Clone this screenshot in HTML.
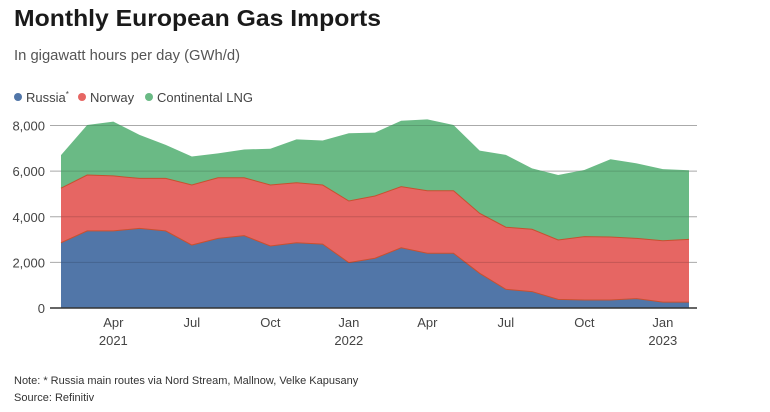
<!DOCTYPE html>
<html><head><meta charset="utf-8"><style>
html,body{margin:0;padding:0;background:#fff;}
svg{display:block;font-family:"Liberation Sans",sans-serif;}
</style></head><body>
<svg id="chart" width="770" height="412" viewBox="0 0 770 412">
<text x="14" y="26" font-size="23" font-weight="bold" fill="#1a1a1a" textLength="367" lengthAdjust="spacingAndGlyphs">Monthly European Gas Imports</text>
<text x="14" y="60" font-size="15" fill="#555" textLength="226" lengthAdjust="spacingAndGlyphs">In gigawatt hours per day (GWh/d)</text>
<g>
<circle cx="18" cy="97" r="4" fill="#5176a8"/>
<text x="26" y="102" font-size="13" fill="#444">Russia<tspan font-size="8" dy="-5">*</tspan></text>
<circle cx="82" cy="97" r="4" fill="#e66663"/>
<text x="90" y="102" font-size="13" fill="#444">Norway</text>
<circle cx="149" cy="97" r="4" fill="#6aba85"/>
<text x="157" y="102" font-size="13" fill="#444" textLength="96" lengthAdjust="spacingAndGlyphs">Continental LNG</text>
</g>
<g id="grid"></g>
<g id="areas"></g>
<g id="xaxis"></g>
<text x="14" y="384" font-size="11" fill="#333">Note: * Russia main routes via Nord Stream, Mallnow, Velke Kapusany</text>
<text x="14" y="401" font-size="11" fill="#333">Source: Refinitiv</text>
</svg>
<script>
const months = ["Feb21","Mar21","Apr21","May21","Jun21","Jul21","Aug21","Sep21","Oct21","Nov21","Dec21","Jan22","Feb22","Mar22","Apr22","May22","Jun22","Jul22","Aug22","Sep22","Oct22","Nov22","Dec22","Jan23","Feb23"];
const russia = [2860,3380,3380,3490,3380,2760,3050,3170,2720,2860,2800,1990,2180,2640,2400,2400,1520,820,720,380,350,350,410,260,260];
const norway = [2390,2450,2410,2190,2300,2630,2660,2540,2670,2630,2590,2700,2730,2680,2740,2740,2630,2720,2730,2600,2780,2760,2640,2690,2750];
const lng = [1450,2190,2380,1910,1470,1250,1070,1240,1590,1900,1950,2970,2780,2890,3130,2880,2750,3170,2670,2850,2920,3410,3290,3140,3030];
const yTicks = [0,2000,4000,6000,8000];
const yTickLabels = ["0","2,000","4,000","6,000","8,000"];
const xTickIdx = [2,5,8,11,14,17,20,23];
const xTickLabels = ["Apr","Jul","Oct","Jan","Apr","Jul","Oct","Jan"];
const yearIdx = [2,11,23];
const yearLabels = ["2021","2022","2023"];

const NS="http://www.w3.org/2000/svg";
const x0=61, x1=689, yBase=308, yTop=125.5;
const xs=i=>x0+(x1-x0)*i/(months.length-1);
const ys=v=>yBase-(yBase-yTop)*v/8000;
function mk(tag,attrs,parent){const e=document.createElementNS(NS,tag);for(const k in attrs)e.setAttribute(k,attrs[k]);parent.appendChild(e);return e;}
const grid=document.getElementById('grid'),areas=document.getElementById('areas'),xa=document.getElementById('xaxis');
yTicks.forEach((t,i)=>{
  if(t>0){const l=mk('line',{x1:50,x2:697,y1:ys(t),y2:ys(t),stroke:'#c8c8c8','stroke-width':1},grid);
  
  }
  const tx=mk('text',{x:45,y:ys(t)+5,'font-size':13,fill:'#444','text-anchor':'end'},grid);
  tx.textContent=yTickLabels[i];
  
  
});
const c1=russia, c2=russia.map((v,i)=>v+norway[i]), c3=c2.map((v,i)=>v+lng[i]);
function band(lo,hi,color,name){
  let d='M'+months.map((m,i)=>xs(i)+','+ys(hi[i])).join('L');
  for(let i=months.length-1;i>=0;i--)d+='L'+xs(i)+','+ys(lo?lo[i]:0);
  const p=mk('path',{d:d+'Z',fill:color},areas);
  
  
}
band(c2,c3,'#6aba85','area-lng');
band(c1,c2,'#e66663','area-norway');
band(null,c1,'#5176a8','area-russia');
[c1,c2].forEach((s,k)=>{
  const pl=mk('polyline',{points:months.map((m,i)=>xs(i)+','+ys(s[i])).join(' '),fill:'none',stroke:'#c9502f','stroke-width':1},areas);
  
  
});
yTicks.forEach(t=>{if(t>0){const l=mk('line',{x1:50,x2:697,y1:ys(t),y2:ys(t),stroke:'rgba(0,0,0,0.15)','stroke-width':1},areas);
  
  }});
const ax=mk('line',{x1:50,x2:697,y1:yBase,y2:yBase,stroke:'#333','stroke-width':1.5},xa);


xTickIdx.forEach((idx,i)=>{
  const t=mk('text',{x:xs(idx),y:327,'font-size':13,fill:'#444','text-anchor':'middle'},xa);
  t.textContent=xTickLabels[i];
  
  
});
yearIdx.forEach((idx,i)=>{
  const t=mk('text',{x:xs(idx),y:345,'font-size':13,fill:'#444','text-anchor':'middle'},xa);
  t.textContent=yearLabels[i];
  
  
});
</script>
</body></html>
